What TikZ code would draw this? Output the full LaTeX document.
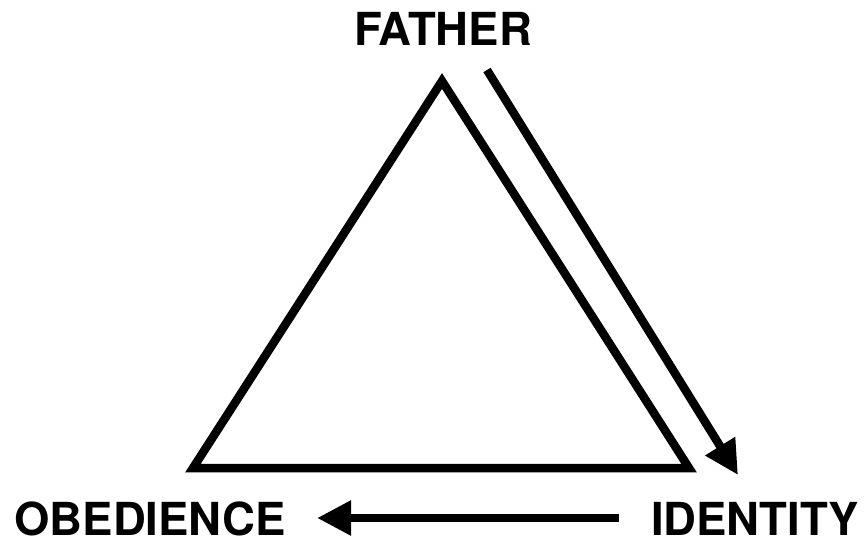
\documentclass[tikz,border=0pt]{standalone}
\usepackage{fontspec}
\setmainfont{TeX Gyre Heros}
\usetikzlibrary{arrows.meta}
\begin{document}
\begin{tikzpicture}[x=1pt,y=-1pt,
  lbl/.style={font=\fontsize{45.5}{50}\selectfont\bfseries, anchor=base, inner sep=0pt},
  thick8/.style={line width=8.5pt, line join=miter},
  arr/.style={line width=8.5pt, -{Triangle[length=34pt,width=33pt]}}]
\useasboundingbox (0,0) rectangle (865,550);
\node[lbl] (father) at (443,45) {FATHER};
\node[lbl] (obedience) at (150,535) {OBEDIENCE};
\node[lbl] (identity) at (755,535) {IDENTITY};
\coordinate (apex) at (442,81);
\coordinate (bl) at (193,468);
\coordinate (br) at (689,468);
\draw[thick8] (apex) -- (bl) -- (br) -- cycle;
\coordinate (a1s) at (487,70);
\coordinate (a1e) at (738,475);
\draw[arr] (a1s) -- (a1e);
\coordinate (a2s) at (619,518);
\coordinate (a2e) at (317,518);
\draw[arr] (a2s) -- (a2e);
\end{tikzpicture}
\end{document}
